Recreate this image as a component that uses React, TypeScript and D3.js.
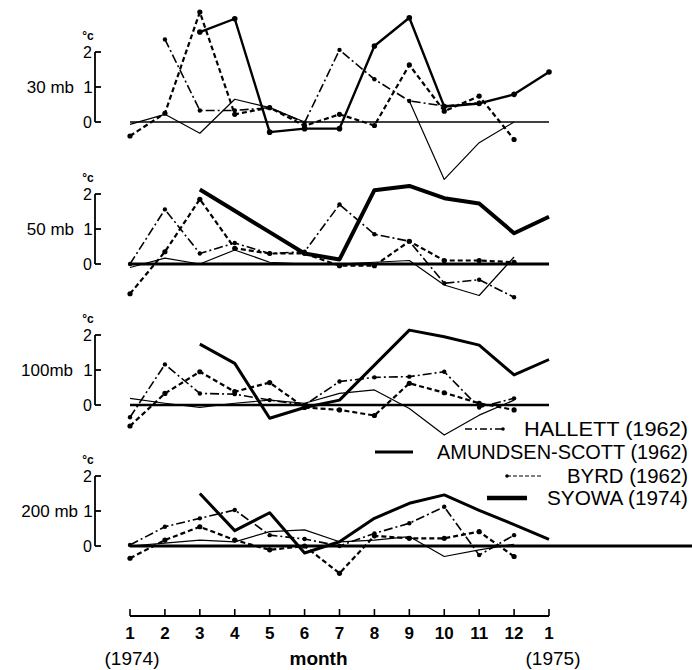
import React from 'react';
import * as d3 from 'd3';

// months 1 (1974) .. 12, then 1 (1975)
const months = d3.range(1, 14);
const monthLabels = ['1', '2', '3', '4', '5', '6', '7', '8', '9', '10', '11', '12', '1'];
const levels = ['30 mb', '50 mb', '100mb', '200 mb'];
const yTicks = [0, 1, 2];

// temperature deviations (°C) per month, null = no data
const hallett30 = [null, 2.36, 0.33, 0.33, 0.41, -0.02, 2.06, 1.22, 0.6, 0.46, 0.55, null, null];
const amundsen30 = [-0.07, 0.22, -0.32, 0.65, 0.41, 0.0, null, null, 0.6, -1.64, -0.59, 0.0, null];
const byrd30 = [-0.4, 0.25, 3.14, 0.22, 0.41, -0.11, 0.22, -0.1, 1.63, 0.31, 0.74, -0.5, null];
const syowa30 = [null, null, 2.57, 2.95, -0.29, -0.19, -0.19, 2.17, 2.98, 0.44, 0.53, 0.79, 1.43];

const hallett50 = [0.0, 1.56, 0.3, 0.6, 0.3, 0.35, 1.7, 0.85, 0.65, -0.55, -0.45, -0.95, null];
const amundsen50 = [-0.1, 0.17, 0.0, 0.4, 0.05, 0.0, 0.0, 0.05, 0.1, -0.6, -0.9, 0.2, null];
const byrd50 = [-0.85, 0.35, 1.85, 0.45, 0.3, 0.3, -0.05, -0.05, 0.65, 0.1, 0.1, 0.05, null];
const syowa50 = [null, null, 2.13, 1.52, 0.91, 0.3, 0.13, 2.11, 2.23, 1.88, 1.73, 0.88, 1.35];

const hallett100 = [-0.35, 1.16, 0.33, 0.31, 0.14, 0.0, 0.67, 0.79, 0.81, 0.95, -0.07, 0.19, null];
const amundsen100 = [0.19, 0.05, -0.07, 0.05, 0.14, 0.05, 0.33, 0.43, -0.1, -0.86, -0.29, 0.14, null];
const byrd100 = [-0.6, 0.33, 0.95, 0.38, 0.64, -0.07, -0.14, -0.3, 0.62, 0.35, 0.05, -0.14, null];
const syowa100 = [null, null, 1.74, 1.19, -0.38, -0.07, 0.14, 1.14, 2.14, 1.95, 1.71, 0.86, 1.3];

const hallett200 = [0.03, 0.55, 0.79, 1.03, 0.31, 0.2, 0.0, 0.36, 0.65, 1.12, -0.26, 0.31, null];
const amundsen200 = [0.0, 0.08, 0.17, 0.12, 0.41, 0.46, 0.12, 0.17, 0.27, -0.3, -0.11, 0.05, null];
const byrd200 = [-0.35, 0.17, 0.55, 0.17, -0.11, 0.0, -0.78, 0.29, 0.22, 0.22, 0.41, -0.3, null];
const syowa200 = [null, null, 1.5, 0.44, 0.95, -0.2, 0.12, 0.79, 1.22, 1.46, 1.02, 0.61, 0.19];

const stations = ['HALLETT (1962)', 'AMUNDSEN-SCOTT (1962)', 'BYRD (1962)', 'SYOWA (1974)'];

const panels = [
  { level: levels[0], zeroY: 122, zeroW: 1.3, syowaW: 2.4, syowaDots: true, labelEnd: 74, series: [hallett30, amundsen30, byrd30, syowa30] },
  { level: levels[1], zeroY: 264, zeroW: 3, syowaW: 4, syowaDots: false, labelEnd: 74, series: [hallett50, amundsen50, byrd50, syowa50] },
  { level: levels[2], zeroY: 405, zeroW: 2.4, syowaW: 3, syowaDots: false, labelEnd: 73, series: [hallett100, amundsen100, byrd100, syowa100] },
  { level: levels[3], zeroY: 546, zeroW: 3, syowaW: 3, syowaDots: false, labelEnd: 78, series: [hallett200, amundsen200, byrd200, syowa200] },
];

const W = 692;
const H = 670;
const font = "'Liberation Sans', Arial, sans-serif";
const perDeg = 35;
const axisX = 95;

const x = d3.scaleLinear().domain([1, 13]).range([130, 549]);

function Panel({ p }: { p: any }) {
  const y = d3.scaleLinear().domain([0, 2]).range([p.zeroY, p.zeroY - 2 * perDeg]);
  const gen = d3
    .line<number | null>()
    .defined(d => d != null)
    .x((d, i) => x(months[i]))
    .y(d => y(d as number));

  const styles = [
    { w: 1.6, dash: '9,3,2,3', dots: true, r: 2.2 },
    { w: 1.2, dash: null, dots: false, r: 0 },
    { w: 2.2, dash: '5,3', dots: true, r: 2.6 },
    { w: p.syowaW, dash: null, dots: p.syowaDots, r: 2.8 },
  ];
  const zeroEnd = p.level === '200 mb' ? W : x(13);

  return (
    <g>
      {/* y scale bracket */}
      <line x1={axisX} x2={axisX} y1={y(2)} y2={y(0)} stroke="#000" strokeWidth={1.8} />
      {yTicks.map(t => (
        <line key={t} x1={axisX} x2={axisX + 6} y1={y(t)} y2={y(t)} stroke="#000" strokeWidth={1.8} />
      ))}
      <text x={88} y={y(2) - 12} fontSize={12} fontWeight="bold" textAnchor="middle" fontFamily={font}>°c</text>
      <text x={92} y={y(2) + 6} fontSize={16} textAnchor="end" fontFamily={font}>2</text>
      <text x={92} y={y(0) + 6} fontSize={16} textAnchor="end" fontFamily={font}>0</text>
      <text x={88} y={y(1) + 6} fontSize={17} textAnchor="middle" fontFamily={font}>1</text>
      <text x={p.labelEnd} y={y(1) + 6} fontSize={17} textAnchor="end" fontFamily={font}>
        {p.level}
      </text>

      <line x1={x(1)} x2={zeroEnd} y1={y(0)} y2={y(0)} stroke="#000" strokeWidth={p.zeroW} />

      {p.series.map((s: (number | null)[], si: number) => {
        const st = styles[si];
        return (
          <g key={si}>
            <path
              d={gen(s) || ''}
              fill="none"
              stroke="#000"
              strokeWidth={st.w}
              strokeDasharray={st.dash || undefined}
              strokeLinejoin="round"
            />
            {st.dots &&
              s.map((v, i) =>
                v == null ? null : <circle key={i} cx={x(months[i])} cy={y(v)} r={st.r} fill="#000" />
              )}
          </g>
        );
      })}
    </g>
  );
}

export default function App() {
  const legendY = [429, 452, 476, 498];
  const legendText = [[524, 688], [437, 688], [567, 688], [547, 688]];
  const legendLine = [[465, 503], [375, 413], [507, 543], [487, 527]];
  const legendStyle = [
    { w: 1.6, dash: '7,3,2,3', dotAt: 'end' },
    { w: 3.2, dash: null, dotAt: null },
    { w: 1.2, dash: '4,2', dotAt: 'start' },
    { w: 4.5, dash: null, dotAt: null },
  ];

  return (
    <svg width={W} height={H} style={{ display: 'block', position: 'absolute', left: 0, top: 0, background: '#fff' }}>
      <rect width={W} height={H} fill="#fff" />
      {panels.map(p => (
        <Panel key={p.level} p={p} />
      ))}

      {/* legend */}
      {stations.map((name, i) => {
        const st = legendStyle[i];
        const [l0, l1] = legendLine[i];
        const [t0, t1] = legendText[i];
        return (
          <g key={name}>
            <line x1={l0} x2={l1} y1={legendY[i]} y2={legendY[i]} stroke="#000" strokeWidth={st.w} strokeDasharray={st.dash || undefined} />
            {st.dotAt && <circle cx={st.dotAt === 'end' ? l1 : l0} cy={legendY[i]} r={1.8} fill="#000" />}
            <text
              x={t0}
              y={legendY[i] + 7}
              fontSize={20}
              fontFamily={font}
              textLength={t1 - t0}
              lengthAdjust="spacingAndGlyphs"
            >
              {name}
            </text>
          </g>
        );
      })}

      {/* x axis */}
      <line x1={x(1)} x2={x(13)} y1={616} y2={616} stroke="#000" strokeWidth={2.2} />
      {months.map((m, i) => (
        <line key={i} x1={x(m)} x2={x(m)} y1={609} y2={616} stroke="#000" strokeWidth={1.6} />
      ))}
      {months.map((m, i) => (
        <text key={i} x={x(m)} y={639} fontSize={17} textAnchor="middle" fontWeight="bold" fontFamily={font}>
          {monthLabels[i]}
        </text>
      ))}
      <text x={x(1) + 2} y={665} fontSize={19} textAnchor="middle" fontFamily={font}>(1974)</text>
      <text x={x(6.4)} y={665} fontSize={19} textAnchor="middle" fontWeight="bold" fontFamily={font}>month</text>
      <text x={x(13) + 4} y={665} fontSize={19} textAnchor="middle" fontFamily={font}>(1975)</text>
    </svg>
  );
}
